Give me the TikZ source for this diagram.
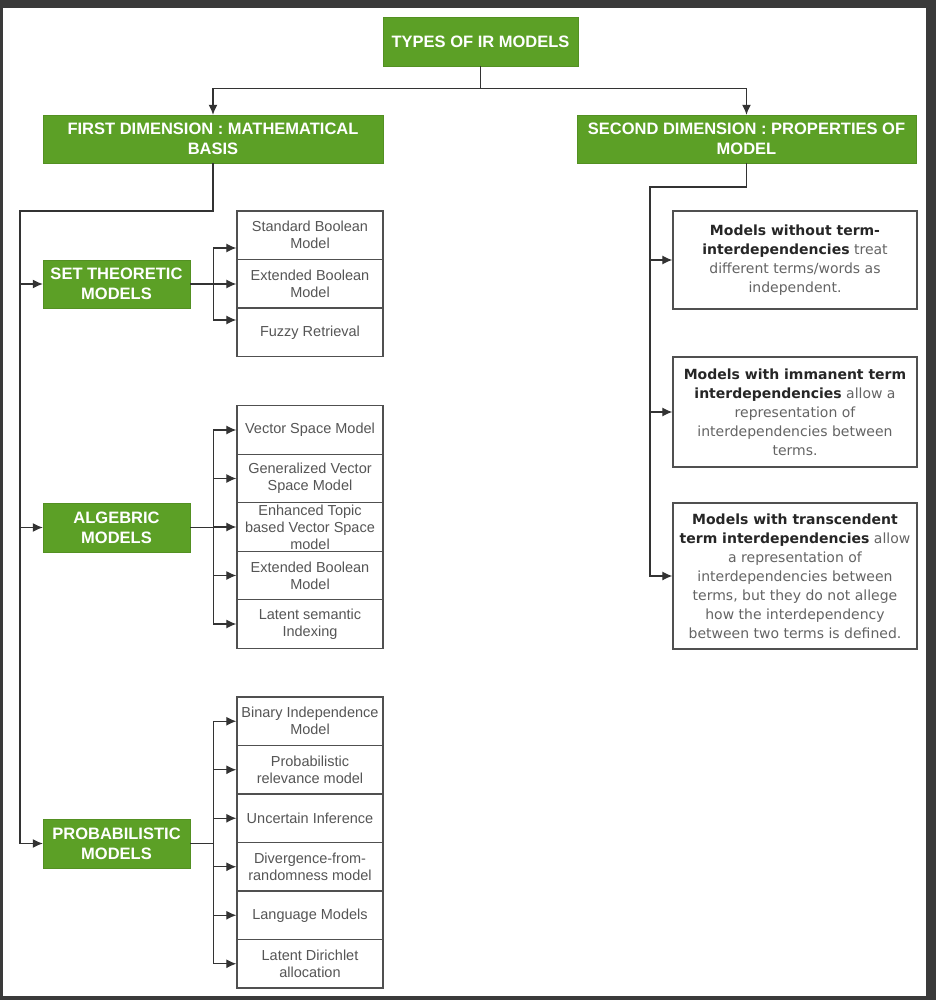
\documentclass[tikz,border=0pt]{standalone}
\usepackage{fontspec}
\setmainfont{Liberation Sans}
\newfontfamily\descfont{DejaVu Sans}
\usetikzlibrary{calc,arrows.meta,positioning}
\definecolor{irgreen}{RGB}{92,160,38}
\definecolor{framegray}{RGB}{58,58,58}
\definecolor{boxgray}{RGB}{80,80,80}
\definecolor{leaftext}{RGB}{85,85,85}
\definecolor{notetext}{RGB}{100,100,100}
\newcommand{\keyterm}[1]{\textcolor{black!85}{\bfseries #1}}
\tikzset{
    head/.style={
        draw=irgreen!90!black,
        fill=irgreen,
        text=white,
        font=\fontsize{16.5}{20}\selectfont\bfseries,
        align=center,
        inner sep=1pt,
    },
    leaf/.style={
        draw=boxgray,
        line width=1.3pt,
        fill=white,
        minimum width=146pt,
        minimum height=48.5pt,
        align=center,
        text=leaftext,
        font=\fontsize{14.5}{17}\selectfont,
        inner sep=1pt,
    },
    note/.style={
        draw=boxgray,
        line width=1.3pt,
        fill=white,
        minimum width=244pt,
        align=center,
        text=notetext,
        font=\descfont\fontsize{14}{19}\selectfont,
        inner xsep=1pt,
    },
    link/.style={draw=black!80, line width=1.2pt},
    arr/.style={link, -{Latex[length=10pt,width=9pt]}},
}

\begin{document}
\begin{tikzpicture}[x=1pt, y=-1pt]
    % Screen frame
    \fill[framegray] (0, 0) rectangle (936, 1000);
    \fill[white] (3, 8) rectangle (926, 996);

    % Top level
    \node[head, minimum width=195pt, minimum height=49pt] (root) at (480.5, 41.5)
      {TYPES OF IR MODELS};
    \node[head, minimum width=340pt, minimum height=48pt] (first) at (213, 139)
      {FIRST DIMENSION : MATHEMATICAL\\BASIS};
    \node[head, minimum width=339pt, minimum height=48pt] (second) at (746.5, 139)
      {SECOND DIMENSION : PROPERTIES OF\\MODEL};

    \draw[link] (root.south) -- ++(0, 22) coordinate (split);
    \draw[arr] (split) -| (first.north);
    \draw[arr] (split) -| (second.north);

    % First dimension
    \node[head, minimum width=147pt, minimum height=48pt] (set) at (116.5, 284)
      {SET THEORETIC\\MODELS};
    \node[head, minimum width=147pt, minimum height=49pt] (alg) at (116.5, 527.5)
      {ALGEBRIC\\MODELS};
    \node[head, minimum width=147pt, minimum height=49pt] (prob) at (116.5, 843.5)
      {PROBABILISTIC\\MODELS};

    \coordinate (trunk) at (20, 211);
    \draw[arr] (first.south) |- (trunk) |- (prob.west);
    \draw[arr] (trunk) |- (set.west);
    \draw[arr] (trunk) |- (alg.west);

    % Set theoretic models
    \node[leaf] (s1) at (310, 235.25) {Standard Boolean\\Model};
    \node[leaf] (s2) at (310, 283.75) {Extended Boolean\\Model};
    \node[leaf] (s3) at (310, 332.25) {Fuzzy Retrieval};

    \coordinate (sbus) at ($(set.east) + (23, 0)$);
    \draw[link] (set.east) -- (sbus);
    \draw[arr] (sbus) |- ([yshift=-12.75pt]s1.west);
    \draw[arr] (sbus) -- (sbus -| s2.west);
    \draw[arr] (sbus) |- ([yshift=12.25pt]s3.west);

    % Algebraic models
    \node[leaf] (a1) at (310, 430) {Vector Space Model};
    \node[leaf] (a2) at (310, 478.5) {Generalized Vector\\Space Model};
    \node[leaf] (a3) at (310, 527) {Enhanced Topic\\based Vector Space\\model};
    \node[leaf] (a4) at (310, 575.5) {Extended Boolean\\Model};
    \node[leaf] (a5) at (310, 624) {Latent semantic\\Indexing};

    \coordinate (abus) at ($(alg.east) + (23, 0)$);
    \draw[link] (alg.east) -- (abus);
    \draw[arr] (abus) |- (a1.west);
    \draw[arr] (abus) |- (a2.west);
    \draw[arr] (abus) |- (a3.west);
    \draw[arr] (abus) |- (a4.west);
    \draw[arr] (abus) |- (a5.west);

    % Probabilistic models
    \node[leaf] (p1) at (310, 721.25) {Binary Independence\\Model};
    \node[leaf] (p2) at (310, 769.75) {Probabilistic\\relevance model};
    \node[leaf] (p3) at (310, 818.25) {Uncertain Inference};
    \node[leaf] (p4) at (310, 866.75) {Divergence-from-\\randomness model};
    \node[leaf] (p5) at (310, 915.25) {Language Models};
    \node[leaf] (p6) at (310, 963.75) {Latent Dirichlet\\allocation};

    \coordinate (pbus) at ($(prob.east) + (23, 0)$);
    \draw[link] (prob.east) -- (pbus);
    \draw[arr] (pbus) |- (p1.west);
    \draw[arr] (pbus) |- (p2.west);
    \draw[arr] (pbus) |- (p3.west);
    \draw[arr] (pbus) |- (p4.west);
    \draw[arr] (pbus) |- (p5.west);
    \draw[arr] (pbus) |- (p6.west);

    % Second dimension
    \node[note, minimum height=98pt] (n1) at (795, 260)
      {\keyterm{Models without term-}\\\keyterm{interdependencies} treat\\different terms/words as\\independent.};
    \node[note, minimum height=110pt] (n2) at (795, 412)
      {\keyterm{Models with immanent term}\\\keyterm{interdependencies} allow a\\representation of\\interdependencies between\\terms.};
    \node[note, minimum height=146pt] (n3) at (795, 576)
      {\keyterm{Models with transcendent}\\\keyterm{term interdependencies} allow\\a representation of\\interdependencies between\\terms, but they do not allege\\how the interdependency\\between two terms is defined.};

    \coordinate (rtrunk) at (650, 187);
    \draw[arr] (second.south) |- (rtrunk) |- (n3.west);
    \draw[arr] (rtrunk) |- (n1.west);
    \draw[arr] (rtrunk) |- (n2.west);

\end{tikzpicture}
\end{document}
